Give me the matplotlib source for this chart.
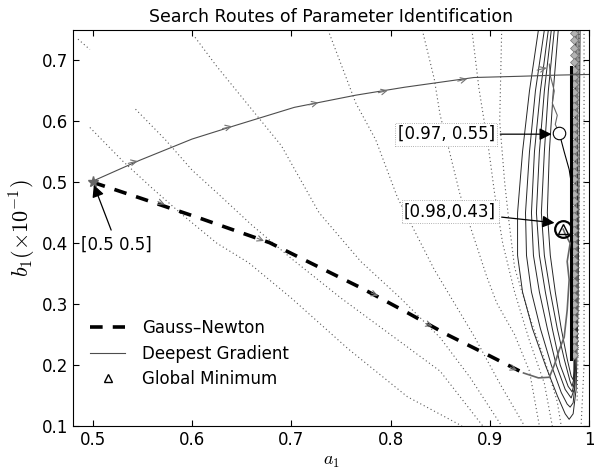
import matplotlib
matplotlib.use('Agg')
import matplotlib.pyplot as plt

plt.rcParams['font.family'] = ['DejaVu Sans']
plt.rcParams['mathtext.fontset'] = 'cm'

# contour lines of the cost surface as (a1, b1) points
dotted_contours = [
    [(0.485, 0.735), (0.497, 0.718)],
    [(0.497, 0.59), (0.530, 0.535), (0.560, 0.49), (0.590, 0.447), (0.625, 0.40),
     (0.657, 0.368), (0.700, 0.31), (0.757, 0.227), (0.817, 0.148), (0.872, 0.10)],
    [(0.543, 0.62), (0.573, 0.57), (0.600, 0.52), (0.627, 0.48), (0.660, 0.43),
     (0.700, 0.375), (0.750, 0.31), (0.800, 0.25), (0.850, 0.19), (0.893, 0.10)],
    [(0.603, 0.738), (0.625, 0.69), (0.640, 0.66), (0.665, 0.61), (0.690, 0.56),
     (0.728, 0.45), (0.770, 0.37), (0.810, 0.31), (0.850, 0.245), (0.880, 0.18), (0.912, 0.10)],
    [(0.737, 0.75), (0.765, 0.63), (0.785, 0.57), (0.807, 0.475), (0.844, 0.357),
     (0.884, 0.248), (0.910, 0.17), (0.935, 0.10)],
    [(0.832, 0.75), (0.844, 0.67), (0.850, 0.61), (0.859, 0.553), (0.870, 0.48),
     (0.879, 0.434), (0.897, 0.345), (0.907, 0.302), (0.925, 0.25), (0.940, 0.19), (0.950, 0.10)],
    [(0.882, 0.75), (0.889, 0.655), (0.899, 0.553), (0.905, 0.48), (0.913, 0.40),
     (0.925, 0.32), (0.940, 0.24), (0.955, 0.17), (0.963, 0.10)],
    [(0.912, 0.75), (0.910, 0.60), (0.915, 0.50), (0.919, 0.44), (0.925, 0.36),
     (0.940, 0.28), (0.955, 0.21), (0.968, 0.14), (0.972, 0.10)],
    [(0.990, 0.75), (0.990, 0.30), (0.988, 0.14)],
    [(0.995, 0.75), (0.995, 0.20), (0.992, 0.10)],
]
solid_contours = [
    [(0.949, 0.75), (0.940, 0.65), (0.933, 0.55), (0.928, 0.45), (0.928, 0.38), (0.933, 0.32),
     (0.943, 0.26), (0.956, 0.20), (0.968, 0.15), (0.976, 0.12), (0.980, 0.111), (0.984, 0.12),
     (0.987, 0.16), (0.989, 0.30), (0.991, 0.75)],
    [(0.955, 0.75), (0.946, 0.65), (0.940, 0.55), (0.936, 0.45), (0.937, 0.38), (0.942, 0.32),
     (0.951, 0.26), (0.962, 0.20), (0.972, 0.155), (0.978, 0.136), (0.981, 0.131), (0.984, 0.138),
     (0.986, 0.17), (0.988, 0.30), (0.989, 0.75)],
    [(0.959, 0.75), (0.951, 0.65), (0.945, 0.55), (0.942, 0.45), (0.944, 0.38), (0.950, 0.32),
     (0.958, 0.26), (0.967, 0.20), (0.976, 0.16), (0.982, 0.146), (0.985, 0.16), (0.987, 0.30),
     (0.987, 0.75)],
    [(0.962, 0.75), (0.955, 0.65), (0.950, 0.55), (0.947, 0.45), (0.950, 0.38), (0.956, 0.32),
     (0.963, 0.26), (0.971, 0.20), (0.979, 0.165), (0.983, 0.156), (0.985, 0.17), (0.986, 0.30),
     (0.986, 0.75)],
    [(0.965, 0.75), (0.959, 0.65), (0.955, 0.55), (0.952, 0.45), (0.955, 0.38), (0.961, 0.32),
     (0.968, 0.26), (0.975, 0.21), (0.981, 0.173), (0.983, 0.165), (0.985, 0.18), (0.986, 0.75)],
    [(0.969, 0.75), (0.964, 0.65), (0.960, 0.55), (0.958, 0.45), (0.961, 0.38), (0.966, 0.32),
     (0.972, 0.26), (0.978, 0.21), (0.982, 0.182), (0.984, 0.176), (0.985, 0.19), (0.986, 0.75)],
]

# Gauss-Newton route
gn_a = [0.500, 0.548, 0.608, 0.678, 0.709, 0.750, 0.770, 0.817, 0.857, 0.894, 0.934]
gn_b = [0.500, 0.474, 0.441, 0.401, 0.376, 0.343, 0.327, 0.286, 0.250, 0.220, 0.187]
gn_tail_a = [0.934, 0.949, 0.960, 0.965, 0.970, 0.975, 0.978, 0.980, 0.978, 0.981, 0.976, 0.974]
gn_tail_b = [0.187, 0.179, 0.180, 0.200, 0.225, 0.246, 0.290, 0.340, 0.370, 0.400, 0.415, 0.423]
gn_marks = [(0.575, 0.462), (0.675, 0.402), (0.790, 0.312), (0.845, 0.262), (0.930, 0.190)]

# deepest gradient route
dg_a = [0.500, 0.547, 0.600, 0.643, 0.703, 0.765, 0.814, 0.884, 0.930, 0.970, 1.000]
dg_b = [0.502, 0.536, 0.571, 0.593, 0.623, 0.643, 0.656, 0.672, 0.674, 0.676, 0.677]
dg_marks = [(0.548, 0.536), (0.643, 0.593), (0.730, 0.632), (0.800, 0.652), (0.880, 0.671), (0.960, 0.689)]
dg_valley_a = [0.960, 0.961, 0.965, 0.963, 0.968, 0.966, 0.970]
dg_valley_b = [0.694, 0.675, 0.650, 0.630, 0.610, 0.595, 0.581]
slide_a = [0.970, 0.975, 0.980, 0.982]
slide_b = [0.581, 0.550, 0.521, 0.500]

# iterates crowding the valley floor
valley_a = 0.985
valley_b = [0.745, 0.733, 0.721, 0.709, 0.697, 0.685, 0.673, 0.661, 0.649, 0.637, 0.625,
            0.613, 0.601, 0.589, 0.577, 0.565, 0.553, 0.541, 0.529, 0.517, 0.505, 0.493,
            0.481, 0.469, 0.457, 0.445, 0.433, 0.421, 0.409, 0.397, 0.385, 0.373, 0.361,
            0.349, 0.337, 0.325, 0.313, 0.301, 0.289, 0.277, 0.265, 0.253, 0.241, 0.229, 0.217]
floor_a = [0.982, 0.982]
floor_b = [0.690, 0.210]

start_pt = (0.500, 0.500)
local_pt = (0.970, 0.581)
global_pt = (0.974, 0.423)

fig = plt.figure(figsize=(5.94, 4.70), dpi=100)
ax = fig.add_axes([0.1229, 0.0936, 0.8687, 0.8426])

for c in dotted_contours:
    ax.plot([p[0] for p in c], [p[1] for p in c], ls=(0, (1, 2.5)), color='0.35', lw=0.8)
for c in solid_contours:
    ax.plot([p[0] for p in c], [p[1] for p in c], color='0.15', lw=0.7)

ax.plot([valley_a] * len(valley_b), valley_b,
        ls='none', marker='D', ms=4, mfc='0.7', mec='0.45', mew=0.5)
ax.plot(floor_a, floor_b, color='k', lw=2.2)

# routes
ax.plot(gn_a, gn_b, color='k', lw=2.6, dashes=(3.5, 2.8), label='Gauss\u2013Newton')
ax.plot(gn_tail_a, gn_tail_b, color='0.4', lw=1.2)
for x, y in gn_marks:
    ax.annotate('', xy=(x, y), xytext=(x - 0.012, y + 0.008),
                arrowprops=dict(arrowstyle='->', color='0.45', lw=0.8))
ax.plot(dg_a, dg_b, color='0.3', lw=0.8, label='Deepest Gradient')
for x, y in dg_marks:
    ax.annotate('', xy=(x, y), xytext=(x - 0.015, y - 0.006),
                arrowprops=dict(arrowstyle='->', color='0.45', lw=0.8))
ax.plot(dg_valley_a, dg_valley_b, color='0.4', lw=0.8)
ax.plot(slide_a, slide_b, color='k', lw=0.8)

ax.plot(*start_pt, marker='*', ms=8, color='0.4')
ax.plot(*local_pt, marker='o', ms=9, mfc='white', mec='k', mew=0.8)
ax.plot(*global_pt, marker='o', ms=12, mfc='none', mec='k', mew=1.6)
ax.plot(*global_pt, marker='^', ms=7, mfc='none', mec='k', mew=1.0)
ax.plot([], [], ls='none', marker='^', ms=6, mfc='none', mec='k', label='Global Minimum')

arrow_kw = dict(arrowstyle='-|>', color='k', lw=0.9, mutation_scale=18)
ax.annotate('[0.5 0.5]', xy=start_pt, xytext=(0.524, 0.398), fontsize=12,
            ha='center', va='center', arrowprops=arrow_kw)
ax.annotate('[0.97, 0.55]', xy=(local_pt[0] - 0.005, local_pt[1] - 0.002), xytext=(0.856, 0.579),
            fontsize=12, ha='center', va='center',
            bbox=dict(boxstyle='square,pad=0.15', fc='white', ec='0.6', ls=':', lw=0.6),
            arrowprops=arrow_kw)
ax.annotate('[0.98,0.43]', xy=(global_pt[0] - 0.006, global_pt[1] + 0.01), xytext=(0.860, 0.452),
            fontsize=12, ha='center', va='center',
            bbox=dict(boxstyle='square,pad=0.15', fc='white', ec='0.6', ls=':', lw=0.6),
            arrowprops=arrow_kw)

ax.set_xlim(0.48, 1.0)
ax.set_ylim(0.1, 0.75)
ax.set_xticks([0.5, 0.6, 0.7, 0.8, 0.9, 1.0])
ax.set_xticklabels(['0.5', '0.6', '0.7', '0.8', '0.9', '1'])
ax.set_yticks([0.1, 0.2, 0.3, 0.4, 0.5, 0.6, 0.7])
ax.tick_params(direction='in', top=True, right=True, labelsize=12, length=4)
ax.set_xlabel('$a_1$', fontsize=13, labelpad=2)
ax.set_ylabel(r'$b_1(\times10^{-1})$', fontsize=16, labelpad=3)
ax.set_title('Search Routes of Parameter Identification', fontsize=12.5, pad=6)

ax.legend(loc='upper left', bbox_to_anchor=(0.033, 0.27), frameon=False, fontsize=12,
          handlelength=2.1, handletextpad=1.0, labelspacing=0.45, borderpad=0, borderaxespad=0)

fig.savefig('out.png', dpi=100)
